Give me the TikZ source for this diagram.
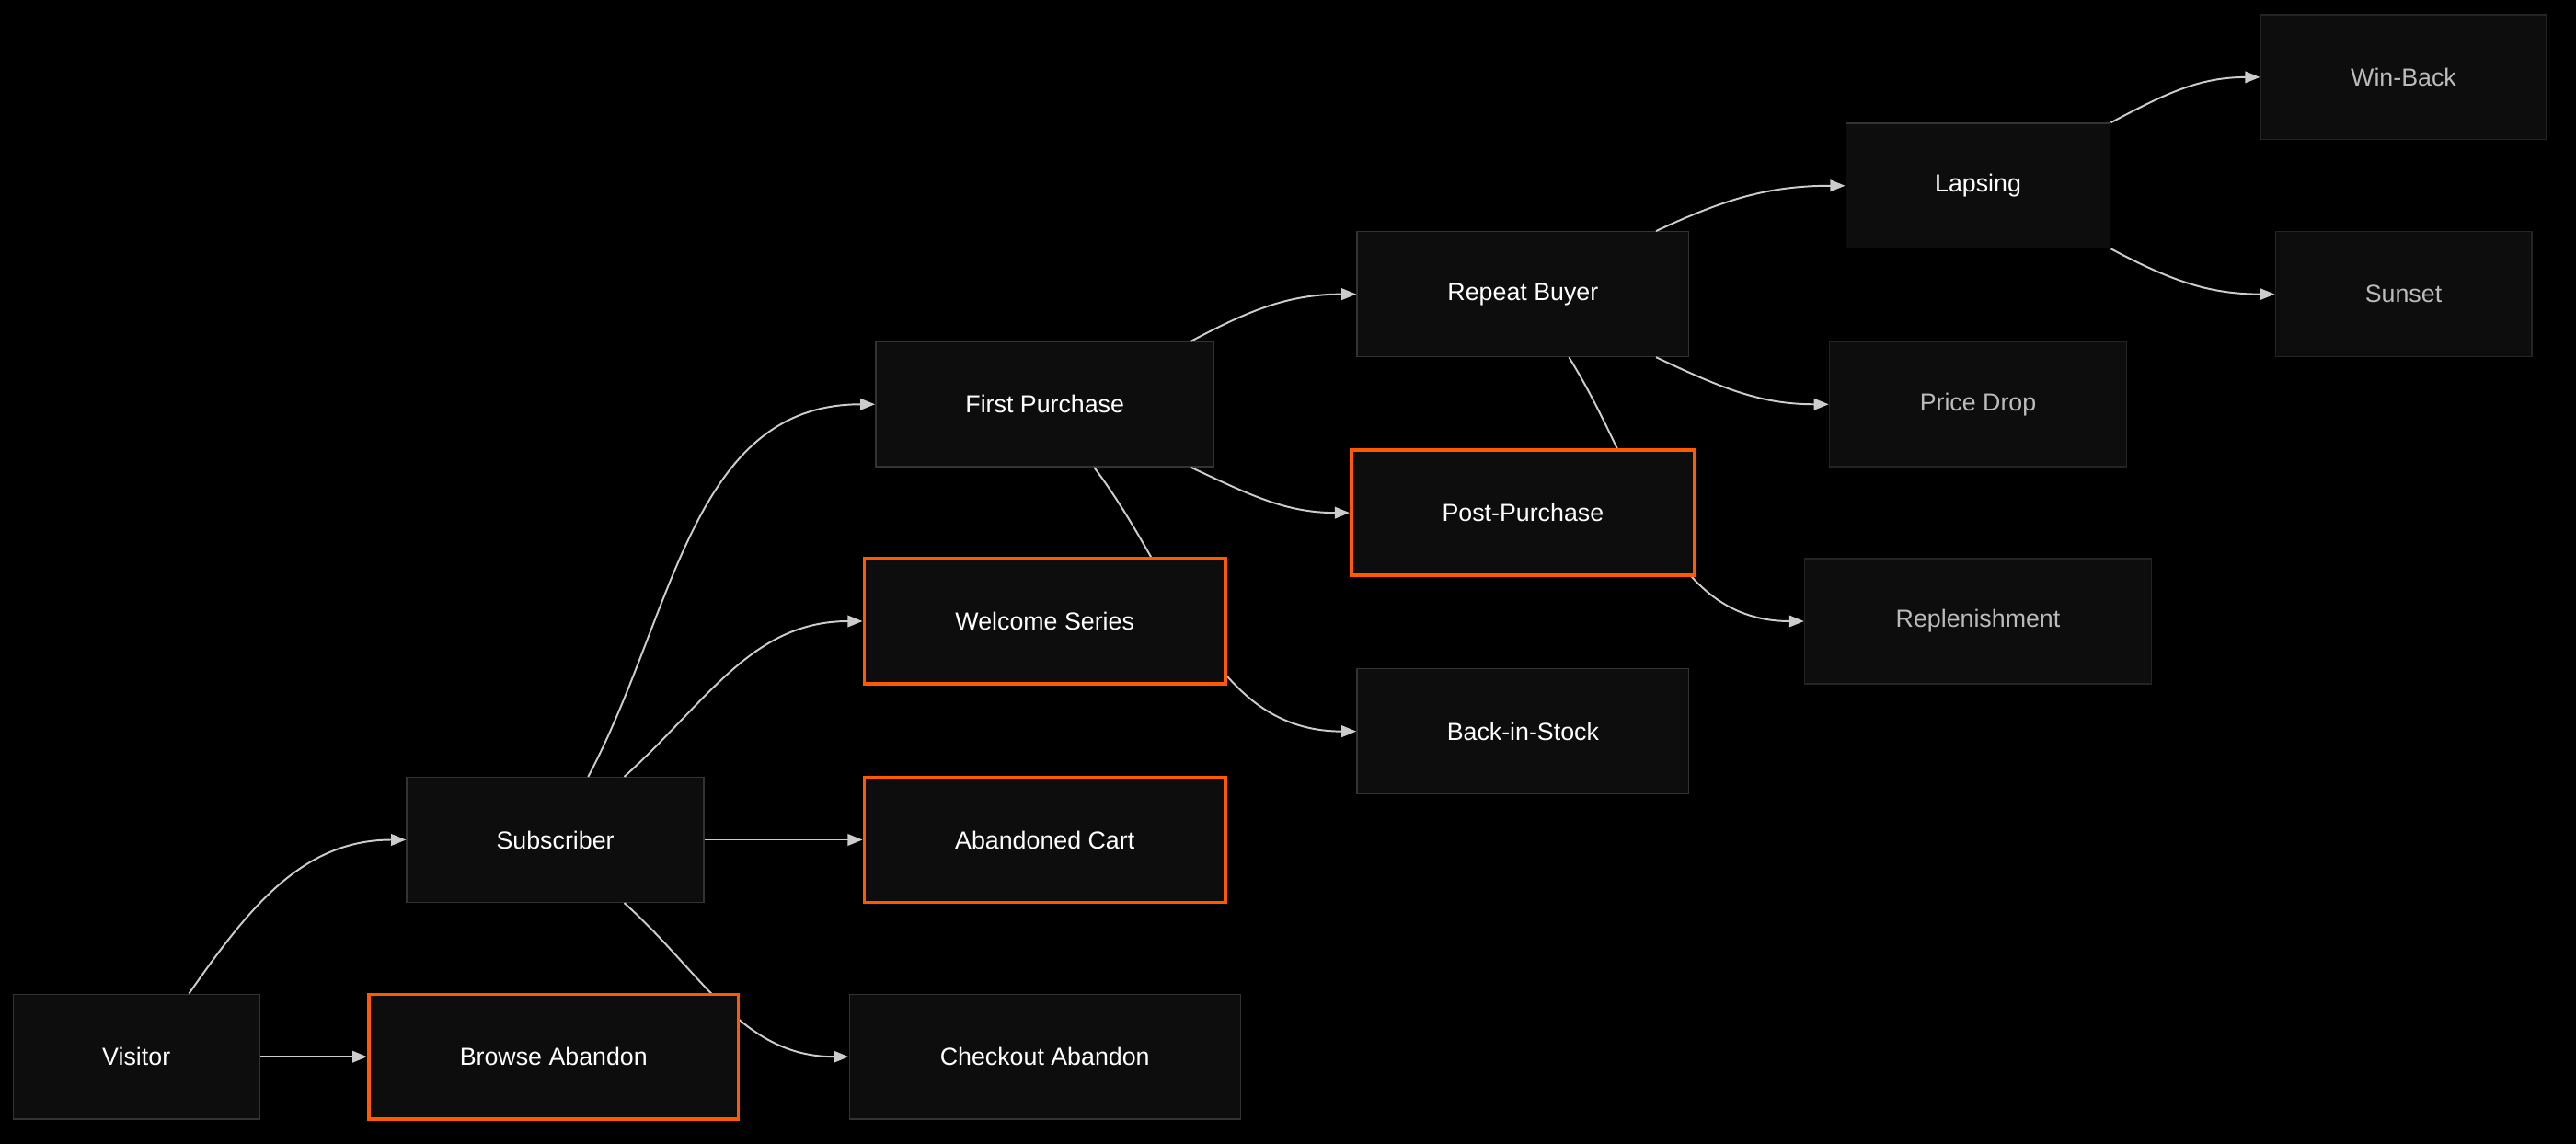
\documentclass[tikz,border=0pt]{standalone}
\usepackage{fontspec}
\setmainfont{Liberation Sans}
\usetikzlibrary{arrows.meta}
\definecolor{boxfill}{HTML}{0D0D0D}
\definecolor{boxline}{HTML}{333333}
\definecolor{hot}{HTML}{FF5A00}
\definecolor{wire}{HTML}{CCCCCC}
\definecolor{dimtext}{HTML}{BBBBBB}
\tikzset{
  stage/.style={draw=boxline,fill=boxfill,line width=0.8pt,text=white,
    minimum height=76pt,inner sep=0pt,font=\fontsize{15}{18}\selectfont},
  flow/.style={stage,draw=hot,line width=2pt},
  quiet/.style={stage,draw=boxline!70!black,text=dimtext},
  link/.style={draw=wire,line width=1.1pt,-{Triangle[length=9pt,width=7pt]}}
}
\begin{document}
\begin{tikzpicture}[x=1pt,y=1pt]
\fill[black] (0,0) rectangle (1568,696);
\useasboundingbox (0,0) rectangle (1568,696);
%Nodes
\node[stage,minimum width=150pt] (vis) at (83,53) {Visitor};
\node[flow,minimum width=225pt] (brw) at (337,53) {Browse Abandon};
\node[stage,minimum width=181pt] (sub) at (338,185) {Subscriber};
\node[stage,minimum width=238pt] (chk) at (636,53) {Checkout Abandon};
\node[flow,minimum width=220pt] (cart) at (636,185) {Abandoned Cart};
\node[flow,minimum width=220pt] (wel) at (636,318) {Welcome Series};
\node[stage,minimum width=206pt] (fst) at (636,450) {First Purchase};
\node[stage,minimum width=202pt] (bis) at (927,251) {Back-in-Stock};
\node[flow,minimum width=209pt] (post) at (927,384) {Post-Purchase};
\node[stage,minimum width=202pt] (rep) at (927,517) {Repeat Buyer};
\node[quiet,minimum width=181pt] (drop) at (1204,450) {Price Drop};
\node[quiet,minimum width=211pt] (repl) at (1204,318) {Replenishment};
\node[stage,minimum width=161pt] (lap) at (1204,583) {Lapsing};
\node[quiet,minimum width=174pt] (win) at (1463,649) {Win-Back};
\node[quiet,minimum width=156pt] (sun) at (1463,517) {Sunset};
%Links
\draw[link] ([xshift=32pt]vis.north) to[out=55,in=180] (sub.west);
\draw[link] (vis.east) -- (brw.west);
\draw[link] ([xshift=20pt]sub.north) to[out=62,in=180] (fst.west);
\draw[link] ([xshift=42pt]sub.north) to[out=42,in=180] (wel.west);
\draw[link] (sub.east) -- (cart.west);
\draw[link] ([xshift=42pt]sub.south) to[out=-42,in=180] (chk.west);
\draw[link] ([xshift=89pt]fst.north) to[out=28,in=180] (rep.west);
\draw[link] ([xshift=89pt]fst.south) to[out=-25,in=180] (post.west);
\draw[link] ([xshift=30pt]fst.south) to[out=-53,in=180] (bis.west);
\draw[link] ([xshift=28pt]rep.south) to[out=-58,in=180] (repl.west);
\draw[link] ([xshift=81pt]rep.south) to[out=-25,in=180] (drop.west);
\draw[link] ([xshift=81pt]rep.north) to[out=25,in=180] (lap.west);
\draw[link] (lap.north east) to[out=28,in=180] (win.west);
\draw[link] (lap.south east) to[out=-28,in=180] (sun.west);
%Boxes again on top of the links
\node[flow,minimum width=225pt] at (brw) {Browse Abandon};
\node[flow,minimum width=220pt] at (wel) {Welcome Series};
\node[flow,minimum width=209pt] at (post) {Post-Purchase};
\end{tikzpicture}
\end{document}
